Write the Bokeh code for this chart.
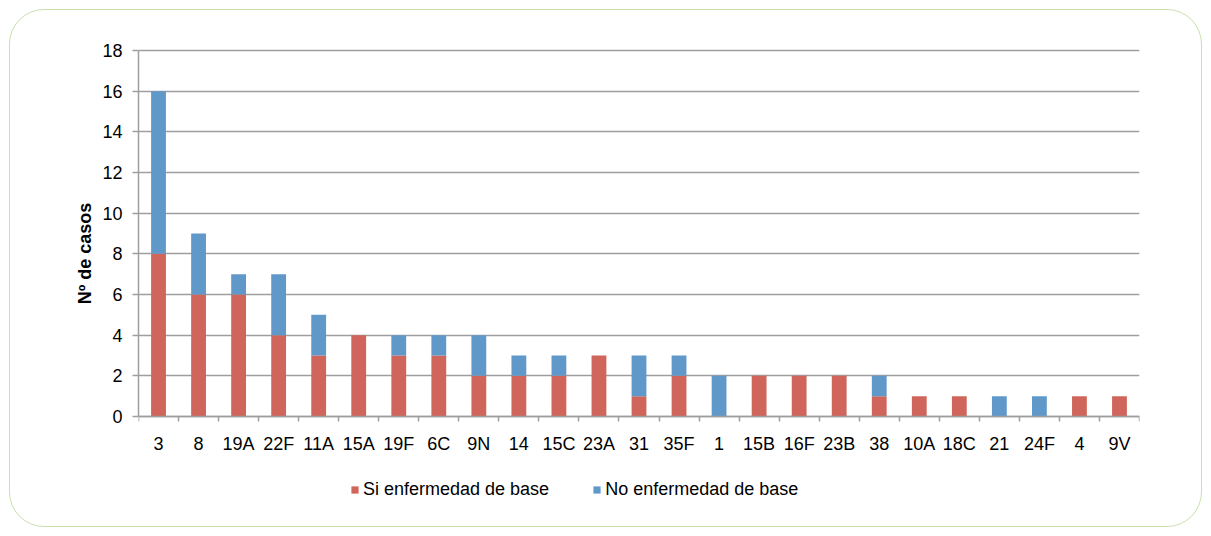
from bokeh.plotting import figure
from bokeh.models import ColumnDataSource, Range1d, FixedTicker, Legend, LegendItem
from bokeh.embed import file_html
from bokeh.resources import INLINE

categories = ["3", "8", "19A", "22F", "11A", "15A", "19F", "6C", "9N", "14", "15C", "23A",
              "31", "35F", "1", "15B", "16F", "23B", "38", "10A", "18C", "21", "24F", "4", "9V"]
si_base = [8, 6, 6, 4, 3, 4, 3, 3, 2, 2, 2, 3, 1, 2, 0, 2, 2, 2, 1, 1, 1, 0, 0, 1, 1]
no_base = [8, 3, 1, 3, 2, 0, 1, 1, 2, 1, 1, 0, 2, 1, 2, 0, 0, 0, 1, 0, 0, 1, 1, 0, 0]
y_ticks = [0, 2, 4, 6, 8, 10, 12, 14, 16, 18]
series_names = ["Si enfermedad de base", "No enfermedad de base"]

RED = "#CF655B"
BLUE = "#6198CA"
GRID = "#9e9e9e"
FONT = "Liberation Sans"

# layout geometry (pixels)
PLOT_H = 366          # height of the 0..18 value area
PAD_TOP = 50          # frame space above the value 18
PAD_BOTTOM = 90       # frame space below the value 0 (axis labels + legend)
px_per_unit = PLOT_H / 18.0

n = len(categories)
xs = [i + 0.5 for i in range(n)]
src = ColumnDataSource(dict(x=xs, si=si_base, no=no_base))

p = figure(frame_width=1001, frame_height=PLOT_H + PAD_TOP + PAD_BOTTOM,
           output_backend="svg", toolbar_location=None,
           x_range=Range1d(0, n),
           y_range=Range1d(-PAD_BOTTOM / px_per_unit, 18 + PAD_TOP / px_per_unit),
           min_border_left=138, min_border_right=72, min_border_top=0, min_border_bottom=30)
p.styles = {"outline": "1px solid #c9e0ad", "outline-offset": "-10px", "border-radius": "44px",
            "background": "white"}
p.background_fill_alpha = 0
p.border_fill_alpha = 0
p.outline_line_color = None

rs = p.vbar_stack(["si", "no"], x="x", width=0.37, source=src, color=[RED, BLUE], line_color=None)

# x axis drawn at value 0
p.xaxis.fixed_location = 0
p.xaxis.ticker = FixedTicker(ticks=xs, minor_ticks=list(range(n + 1)))
p.xaxis.major_label_overrides = {x: c for x, c in zip(xs, categories)}
p.xaxis.major_tick_line_color = None
p.xaxis.major_tick_out = 0
p.xaxis.major_tick_in = 0
p.xaxis.minor_tick_out = 5
p.xaxis.minor_tick_in = 0
p.xaxis.minor_tick_line_color = GRID
p.xaxis.minor_tick_line_width = 1.5
p.xaxis.axis_line_color = GRID
p.xaxis.axis_line_width = 1.5
p.xaxis.major_label_standoff = 12
p.xaxis.major_label_text_font = FONT
p.xaxis.major_label_text_font_size = "18px"
p.xaxis.major_label_text_color = "black"

p.yaxis.ticker = FixedTicker(ticks=y_ticks)
p.yaxis.bounds = (0, 18)
p.yaxis.minor_tick_line_color = None
p.yaxis.major_tick_out = 6
p.yaxis.major_tick_in = 0
p.yaxis.major_tick_line_color = GRID
p.yaxis.major_tick_line_width = 1.5
p.yaxis.axis_line_color = GRID
p.yaxis.axis_line_width = 1.5
p.yaxis.major_label_standoff = 10
p.yaxis.major_label_text_font = FONT
p.yaxis.major_label_text_font_size = "18px"
p.yaxis.major_label_text_color = "black"
p.yaxis.axis_label = "Nº de casos"
p.yaxis.axis_label_text_font = FONT
p.yaxis.axis_label_text_font_size = "18px"
p.yaxis.axis_label_text_font_style = "bold"
p.yaxis.axis_label_text_color = "black"
p.yaxis.axis_label_standoff = 4

p.xgrid.grid_line_color = None
p.ygrid.ticker = FixedTicker(ticks=y_ticks)
p.ygrid.grid_line_color = GRID
p.ygrid.grid_line_width = 1.5

legend = Legend(items=[LegendItem(label=series_names[0], renderers=[rs[0]]),
                       LegendItem(label=series_names[1], renderers=[rs[1]])],
                orientation="horizontal", location=(212, 6),
                glyph_width=9, glyph_height=9, label_standoff=4, spacing=43,
                padding=0, margin=0, border_line_color=None, background_fill_alpha=0,
                label_text_font=FONT, label_text_font_size="18px", label_text_color="black")
p.add_layout(legend, "center")

open("out.html", "w").write(file_html(p, INLINE))
